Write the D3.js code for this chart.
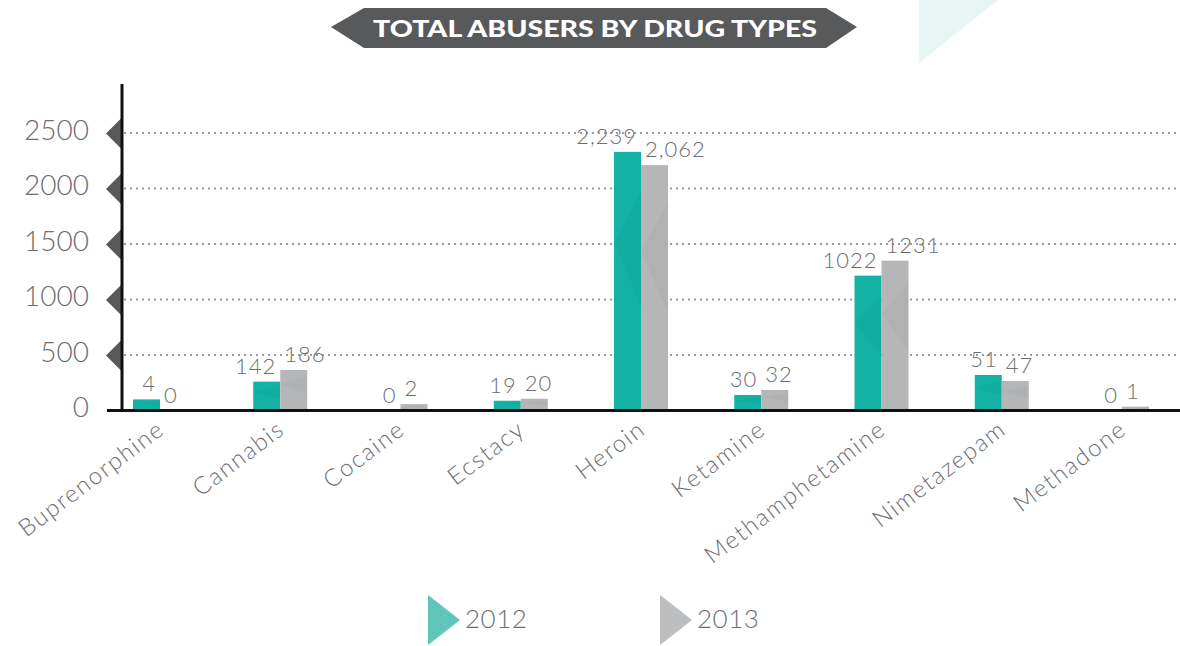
<!DOCTYPE html>
<html>
<head>
<meta charset="utf-8">
<script src="https://cdn.jsdelivr.net/npm/d3@7"></script>
<style>
  html, body { margin: 0; padding: 0; background: #fff; }
  svg { display: block; }
  text { font-family: Lato, "Open Sans", sans-serif; }
</style>
</head>
<body>
<svg id="chart" width="1180" height="646"></svg>
<script>
// ---- data ----
const categories = ["Buprenorphine", "Cannabis", "Cocaine", "Ecstacy", "Heroin", "Ketamine", "Methamphetamine", "Nimetazepam", "Methadone"];
const seriesNames = ["2012", "2013"];
// bar heights as drawn against the axis
const values2012 = [100, 260, 0, 88, 2330, 140, 1215, 320, 0];
const values2013 = [0, 365, 58, 106, 2210, 185, 1350, 266, 35];
// value labels as printed in the chart
const labels2012 = ["4", "142", "0", "19", "2,239", "30", "1022", "51", "0"];
const labels2013 = ["0", "186", "2", "20", "2,062", "32", "1231", "47", "1"];
const yTicks = [0, 500, 1000, 1500, 2000, 2500];
const title = "TOTAL ABUSERS BY DRUG TYPES";

const colors = { "2012": "#14b2a4", "2013": "#b5b6b8" };
const legendColors = { "2012": "#5fc5b9", "2013": "#bcbdbf" };
const textColor = "#6d6e71";

const svg = d3.select("#chart");

// decorative corner triangle
svg.append("path")
  .attr("d", "M919,0 L998,0 L919,63 Z")
  .attr("fill", "#e7f6f5");

// title banner
const banner = svg.append("g");
banner.append("path")
  .attr("d", "M331,27 L364,8 L826,8 L857,27 L826,48 L364,48 Z")
  .attr("fill", "#58595b");
banner.append("text")
  .attr("x", 595).attr("y", 37)
  .attr("text-anchor", "middle")
  .attr("fill", "#fff")
  .attr("font-size", 23)
  .attr("font-weight", 900)
  .attr("textLength", 444)
  .attr("lengthAdjust", "spacingAndGlyphs")
  .text(title);

// scales
const y = d3.scaleLinear().domain([0, 2500]).range([410.5, 133]);
const x = d3.scalePoint().domain(categories).range([160, 1122]);
const xs = d3.scaleBand().domain(seriesNames).range([-27, 27]).padding(0);

// gridlines
svg.append("g").selectAll("line")
  .data(yTicks.filter(t => t > 0))
  .join("line")
  .attr("x1", 124).attr("x2", 1180)
  .attr("y1", d => y(d)).attr("y2", d => y(d))
  .attr("stroke", "#9a9b9d")
  .attr("stroke-width", 2)
  .attr("stroke-dasharray", "2,4");

// y axis via d3.axisLeft, then restyled
const yAxis = svg.append("g")
  .attr("transform", "translate(122,0)")
  .call(d3.axisLeft(y).tickValues(yTicks).tickSize(0).tickPadding(33).tickFormat(d3.format("d")));
yAxis.select(".domain").remove();
yAxis.selectAll("text")
  .attr("font-size", 28)
  .attr("font-weight", 300)
  .attr("fill", textColor)
  .attr("font-family", "Lato, 'Open Sans', sans-serif")
  .attr("dy", "0.22em");
// tick markers (dark half-diamonds)
yAxis.selectAll(".tick").filter(d => d > 0)
  .append("path")
  .attr("d", "M-16,0 L0,-16 L0,16 Z")
  .attr("fill", "#58595b");

// bars
const rows = categories.map((c, i) => ({
  cat: c,
  items: [
    { s: "2012", v: values2012[i], label: labels2012[i] },
    { s: "2013", v: values2013[i], label: labels2013[i] }
  ]
}));

const groups = svg.append("g").selectAll("g")
  .data(rows)
  .join("g")
  .attr("transform", d => `translate(${x(d.cat)},0)`);

groups.selectAll("rect")
  .data(d => d.items.filter(it => it.v > 0))
  .join("rect")
  .attr("x", d => xs(d.s))
  .attr("width", xs.bandwidth())
  .attr("y", d => y(d.v))
  .attr("height", d => y(0) - y(d.v))
  .attr("fill", d => colors[d.s]);

// subtle facet shading on bars
groups.selectAll("path.facet")
  .data(d => d.items.filter(it => it.v > 0))
  .join("path")
  .attr("class", "facet")
  .attr("d", d => {
    const x0 = xs(d.s), w = xs.bandwidth(), top = y(d.v), bot = y(0);
    const h = bot - top;
    return `M${x0},${top + h * 0.35} L${x0 + w},${top + h * 0.15} L${x0 + w},${top + h * 0.6} Z`;
  })
  .attr("fill", "#000")
  .attr("opacity", 0.025);

// value labels: 2012 aligned to right side of its bar, 2013 to left side of its bar
groups.selectAll("text.val")
  .data(d => d.items)
  .join("text")
  .attr("class", "val")
  .attr("x", d => d.s === "2012" ? xs(d.s) + xs.bandwidth() - 4 : xs(d.s) + 4)
  .attr("y", d => y(d.v) - 8)
  .attr("text-anchor", d => d.s === "2012" ? "end" : "start")
  .attr("font-size", 22)
  .attr("font-weight", 300)
  .attr("letter-spacing", 1)
  .attr("fill", textColor)
  .text(d => d.label);

// baseline and vertical axis line
svg.append("line")
  .attr("x1", 107).attr("x2", 1180)
  .attr("y1", y(0)).attr("y2", y(0))
  .attr("stroke", "#111").attr("stroke-width", 3);
svg.append("line")
  .attr("x1", 122).attr("x2", 122)
  .attr("y1", 84).attr("y2", y(0))
  .attr("stroke", "#111").attr("stroke-width", 3);

// category labels
svg.append("g").selectAll("text")
  .data(categories)
  .join("text")
  .attr("transform", d => `translate(${x(d) + 6},${y(0) + 22}) rotate(-37)`)
  .attr("text-anchor", "end")
  .attr("font-size", 24)
  .attr("font-weight", 300)
  .attr("letter-spacing", 1.6)
  .attr("fill", textColor)
  .text(d => d);

// legend
const legend = svg.append("g");
const legendX = d3.scaleOrdinal().domain(seriesNames).range([428, 660]);
const lg = legend.selectAll("g")
  .data(seriesNames)
  .join("g")
  .attr("transform", d => `translate(${legendX(d)},595)`);
lg.append("path")
  .attr("d", "M0,0 L32,25 L0,50 Z")
  .attr("fill", d => legendColors[d]);
lg.append("text")
  .attr("x", 37).attr("y", 33)
  .attr("font-size", 26)
  .attr("font-weight", 300)
  .attr("letter-spacing", 0.5)
  .attr("fill", textColor)
  .text(d => d);
</script>
</body>
</html>
